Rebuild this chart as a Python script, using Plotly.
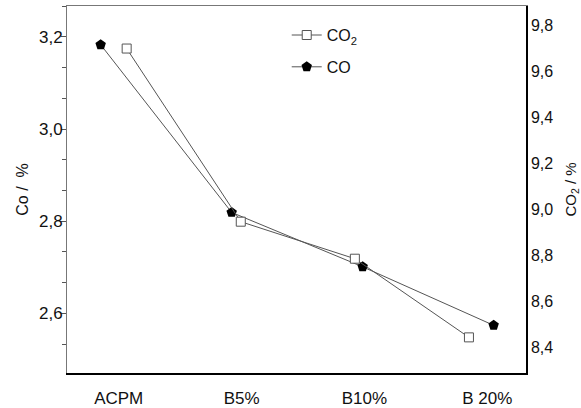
import plotly.graph_objects as go

categories = ["ACPM", "B5%", "B10%", "B 20%"]
co_values = [3.183, 2.819, 2.701, 2.574]
co2_values = [9.70, 8.947, 8.786, 8.444]
left_ticks = [2.6, 2.8, 3.0, 3.2]
right_ticks = [8.4, 8.6, 8.8, 9.0, 9.2, 9.4, 9.6, 9.8]

FONT = "Liberation Sans, Arial, sans-serif"
LINE = "#555555"

fig = go.Figure()

fig.add_trace(go.Scatter(
    x=categories, y=co2_values, name="CO<sub>2</sub>",
    xaxis="x2", yaxis="y2", mode="lines+markers",
    line=dict(color=LINE, width=1),
    marker=dict(symbol="square", size=9, color="white",
                line=dict(color="#555555", width=1)),
    legendgroup="a",
))
fig.add_trace(go.Scatter(
    x=categories, y=co_values, name="CO",
    xaxis="x", yaxis="y", mode="lines+markers",
    line=dict(color=LINE, width=1),
    marker=dict(symbol="pentagon", size=11, color="black",
                line=dict(color="black", width=0)),
    legendgroup="b",
))
# empty trace: only registers the category label axis (draws nothing)
fig.add_trace(go.Scatter(
    x=categories, y=[None] * len(categories), xaxis="x3", yaxis="y",
    mode="markers", showlegend=False, hoverinfo="skip",
))

fig.update_layout(
    width=581, height=408,
    margin=dict(l=67, r=55, t=6, b=35),
    paper_bgcolor="white", plot_bgcolor="white",
    separators=", ",
    font=dict(family=FONT, size=16, color="#111111"),
    showlegend=True,
    legend=dict(x=0.4787, y=0.967, xanchor="left", yanchor="top",
                bgcolor="rgba(0,0,0,0)", font=dict(size=16),
                tracegroupgap=8),
    xaxis=dict(type="category", categoryorder="array", categoryarray=categories,
               range=[-0.257, 3.247], showticklabels=False, ticks="",
               showline=True, linecolor="black", linewidth=2,
               showgrid=False, zeroline=False, automargin=False),
    xaxis2=dict(type="category", categoryorder="array", categoryarray=categories,
                overlaying="x", anchor="y", side="top",
                range=[-0.523, 3.5], showticklabels=False, ticks="",
                showline=True, linecolor="#777777", linewidth=1,
                showgrid=False, zeroline=False, automargin=False),
    xaxis3=dict(type="category", categoryorder="array", categoryarray=categories,
                overlaying="x", anchor="y", side="bottom",
                range=[-0.421, 3.315], ticks="", showline=False,
                showgrid=False, zeroline=False, automargin=False,
                tickfont=dict(size=17), ticklabelstandoff=13),
    yaxis=dict(range=[2.4705, 3.267], tickmode="array", tickvals=left_ticks,
               tickformat=".1f", ticks="outside", ticklen=5, tickcolor="#555555",
               showline=True, linecolor="#777777", linewidth=1,
               showgrid=False, zeroline=False, automargin=False,
               tickfont=dict(size=17), ticklabelstandoff=-5,
               minor=dict(tickmode="linear", tick0=2.6, dtick=0.2/3,
                          ticks="outside", ticklen=4, tickcolor="#555555",
                          showgrid=False),
               title=dict(text="Co /  %", font=dict(size=16), standoff=6)),
    yaxis2=dict(range=[8.289, 9.885], overlaying="y", side="right", anchor="x",
                tickmode="array", tickvals=right_ticks, tickformat=".1f",
                ticks="", showline=True, linecolor="black", linewidth=1.5,
                showgrid=False, zeroline=False, ticklabelstandoff=0,
                tickfont=dict(size=16), automargin=False,
                title=dict(text="CO<sub>2</sub> / %", font=dict(size=15), standoff=14)),
)

fig.write_html("out.html", config={"displayModeBar": False},
               post_script="document.body.style.margin='0';")
